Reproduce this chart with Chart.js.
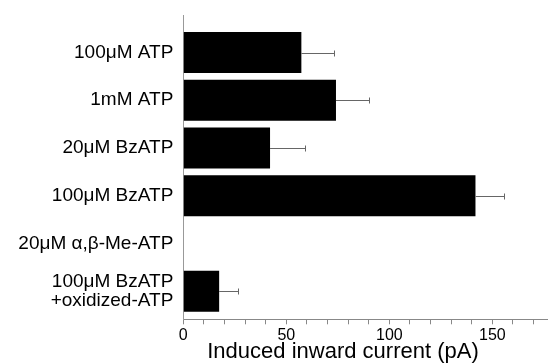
<!DOCTYPE html>
<html>
<head>
<meta charset="utf-8">
<title>Induced inward current</title>
<script src="https://cdn.jsdelivr.net/npm/chart.js@4.4.1/dist/chart.umd.min.js"></script>
<style>
  html, body { margin: 0; padding: 0; background: #fff; }
  canvas { display: block; }
</style>
</head>
<body>
<canvas id="chart" width="548" height="363"></canvas>
<script>
// Agonist conditions (top to bottom)
const conditions = [
  '100\u03BCM ATP',
  '1mM ATP',
  '20\u03BCM BzATP',
  '100\u03BCM BzATP',
  '20\u03BCM \u03B1,\u03B2-Me-ATP',
  ['100\u03BCM BzATP', '+oxidized-ATP']
];
// Mean induced inward current (pA)
const currents = [57.3, 74.1, 42.1, 141.8, 0, 17.4];
// Standard error (pA); null where no bar is drawn
const errors = [15.9, 16.0, 17.1, 14.0, null, 9.1];
// Labelled values on the current axis
const currentTicks = [0, 50, 100, 150];

const FONT = '"Liberation Sans", Arial, Helvetica, sans-serif';

// Error whiskers drawn to the right of each bar
const errorBars = {
  id: 'errorBars',
  afterDatasetsDraw(chart) {
    const { ctx, scales: { x, y } } = chart;
    ctx.save();
    ctx.strokeStyle = '#666';
    ctx.lineWidth = 1;
    currents.forEach((v, i) => {
      const e = errors[i];
      if (e == null) return;
      const yc = Math.round(y.getPixelForValue(i)) + 0.5;
      const x0 = x.getPixelForValue(v);
      const x1 = Math.round(x.getPixelForValue(v + e)) + 0.5;
      ctx.beginPath();
      ctx.moveTo(x0, yc);
      ctx.lineTo(x1, yc);
      ctx.moveTo(x1, yc - 3);
      ctx.lineTo(x1, yc + 3);
      ctx.stroke();
    });
    ctx.restore();
  }
};

// Axis caption under the current axis
const axisCaption = {
  id: 'axisCaption',
  afterDraw(chart) {
    const { ctx, scales: { x } } = chart;
    ctx.save();
    ctx.font = '22px ' + FONT;
    ctx.fillStyle = '#000';
    ctx.textAlign = 'center';
    ctx.textBaseline = 'alphabetic';
    ctx.fillText('Induced inward current (pA)', x.getPixelForValue(77.5), 358);
    ctx.restore();
  }
};

new Chart(document.getElementById('chart'), {
  type: 'bar',
  data: {
    datasets: [{
      data: currents.map((v, i) => ({ x: v, y: i })),
      backgroundColor: '#000',
      borderWidth: 0,
      barPercentage: 0.86,
      categoryPercentage: 1
    }]
  },
  options: {
    indexAxis: 'y',
    responsive: false,
    animation: false,
    layout: { padding: { top: 15, left: 0, right: 0, bottom: 0 } },
    plugins: { legend: { display: false }, tooltip: { enabled: false } },
    scales: {
      x: {
        type: 'linear',
        position: 'bottom',
        offset: false,
        min: 0,
        max: 177,
        afterBuildTicks(scale) {
          const t = [];
          for (let v = 0; v <= 170; v += 10) t.push({ value: v });
          scale.ticks = t;
        },
        afterFit(scale) {
          scale.height = 43.7;
          scale.paddingLeft = 0;
          scale.paddingRight = 0;
        },
        ticks: {
          autoSkip: false,
          maxRotation: 0,
          padding: 2,
          color: '#000',
          font: { family: FONT, size: 16 },
          callback: (v) => currentTicks.includes(v) ? String(v) : ''
        },
        grid: {
          display: true,
          offset: false,
          drawOnChartArea: false,
          drawTicks: true,
          tickLength: 5,
          color: '#888'
        },
        border: { display: true, color: '#888', width: 1 }
      },
      y: {
        type: 'linear',
        position: 'left',
        offset: false,
        reverse: true,
        min: -0.786,
        max: 5.589,
        afterBuildTicks(scale) {
          scale.ticks = conditions.map((_, i) => ({ value: i }));
        },
        afterFit(scale) {
          scale.width = 183.3;
          scale.paddingTop = 0;
          scale.paddingBottom = 0;
        },
        ticks: {
          autoSkip: false,
          padding: 10,
          color: '#000',
          font: { family: FONT, size: 19, lineHeight: 1.0 },
          callback: (v) => conditions[v]
        },
        grid: { display: false, drawTicks: false, offset: false },
        border: { display: true, color: '#999', width: 1 }
      }
    }
  },
  plugins: [errorBars, axisCaption]
});
</script>
</body>
</html>
